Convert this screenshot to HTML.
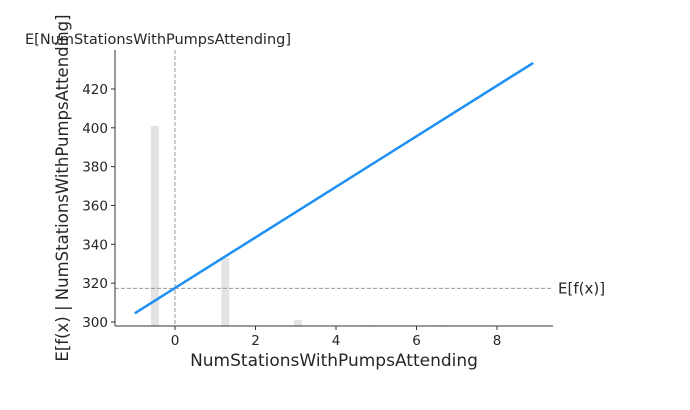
<!DOCTYPE html>
<html><head><meta charset="utf-8"><style>
body{margin:0;background:#fff}
svg text{font-family:"DejaVu Sans","Liberation Sans",sans-serif;fill:#262626}
</style></head><body>
<svg id="chart" width="690" height="405" xmlns="http://www.w3.org/2000/svg"></svg>
<script>
const xTicks=[0,2,4,6,8];
const yTicks=[300,320,340,360,380,400,420];
const lineX=[-1,8.9];
const lineY=[304.5,433.4];
const histX=[-0.5,1.25,3.05,4.85,6.65];
const histCounts=[200,68,6,1,1];
const expectedValue=317.3;
const expectedX=0;

const NS="http://www.w3.org/2000/svg";
const svg=document.getElementById('chart');
const X0=115,X1=553,Y0=326,YT=50;
const xs=v=>175+v*40.25;
const ys=v=>322-(v-300)*1.942;
function mk(t,a,p){const e=document.createElementNS(NS,t);for(const k in a)e.setAttribute(k,a[k]);(p||svg).appendChild(e);return e;}

const hist=mk('g',{});


histX.forEach((x,i)=>{
  const h=histCounts[i]*1.0;
  const r=mk('rect',{x:xs(x)-4,y:Y0-h,width:8,height:h,fill:'#e3e3e3'},hist);
  
  
});
const vl=mk('line',{x1:xs(expectedX),x2:xs(expectedX),y1:YT,y2:Y0,stroke:'#999','stroke-width':1,'stroke-dasharray':'4,2'});


const hl=mk('line',{x1:X0,x2:X1,y1:ys(expectedValue),y2:ys(expectedValue),stroke:'#999','stroke-width':1,'stroke-dasharray':'4,2'});


const ln=mk('line',{x1:xs(lineX[0]),y1:ys(lineY[0]),x2:xs(lineX[1]),y2:ys(lineY[1]),stroke:'#1e90f5','stroke-width':2.5});



const ax=mk('g',{});


mk('line',{x1:X0,x2:X0,y1:YT,y2:Y0,stroke:'#333'},ax);
mk('line',{x1:X0,x2:X1,y1:Y0,y2:Y0,stroke:'#333'},ax);
xTicks.forEach(v=>{
  mk('line',{x1:xs(v),x2:xs(v),y1:Y0,y2:Y0+4,stroke:'#333'},ax);
  const t=mk('text',{x:xs(v),y:Y0+19,'text-anchor':'middle','font-size':13.5},ax);t.textContent=v;
  
  
});
yTicks.forEach(v=>{
  mk('line',{x1:X0-4,x2:X0,y1:ys(v),y2:ys(v),stroke:'#333'},ax);
  const t=mk('text',{x:X0-7,y:ys(v)+5,'text-anchor':'end','font-size':13.5},ax);t.textContent=v;
  
  
});
const xt=mk('text',{x:334,y:366,'text-anchor':'middle','font-size':17});
xt.textContent='NumStationsWithPumpsAttending';


const yt=mk('text',{x:0,y:0,'text-anchor':'middle','font-size':16.5,transform:'translate(68,188) rotate(-90)'});
yt.textContent='E[f(x) | NumStationsWithPumpsAttending]';


const tt=mk('text',{x:158,y:44,'text-anchor':'middle','font-size':14.5});
tt.textContent='E[NumStationsWithPumpsAttending]';


const et=mk('text',{x:558,y:ys(expectedValue)+5,'font-size':15});
et.textContent='E[f(x)]';


</script>
</body></html>
